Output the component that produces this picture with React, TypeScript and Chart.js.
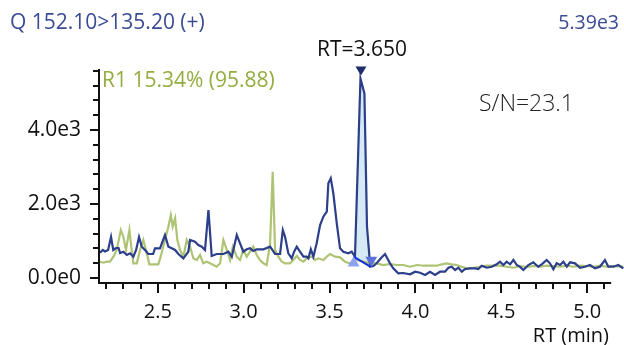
import { useEffect, useRef } from "react";
import { Chart, registerables } from "chart.js";

Chart.register(...registerables);

// ---- data (RT in minutes, intensity) ----
const blueTimes = [
  2.164, 2.18, 2.193, 2.211, 2.228, 2.241, 2.257, 2.272, 2.281, 2.3, 2.32, 2.339, 2.358, 2.374, 2.391, 2.407,
  2.426, 2.445, 2.473, 2.484, 2.513, 2.542, 2.562, 2.581, 2.601, 2.62, 2.649, 2.678, 2.688, 2.717, 2.736, 2.756,
  2.775, 2.795, 2.814, 2.843, 2.882, 2.911, 2.931, 2.96, 2.979, 2.998, 3.018, 3.037, 3.056, 3.076, 3.115, 3.154,
  3.183, 3.212, 3.228, 3.241, 3.26, 3.28, 3.293, 3.309, 3.328, 3.348, 3.367, 3.377, 3.391, 3.406, 3.425, 3.445,
  3.464, 3.484, 3.493, 3.507, 3.522, 3.542, 3.561, 3.58, 3.609, 3.629, 3.648, 3.68, 3.703, 3.718, 3.737, 3.755,
  3.774, 3.8, 3.823, 3.852, 3.871, 3.9, 3.928, 3.969, 3.998, 4.027, 4.056, 4.085, 4.114, 4.143, 4.172, 4.192,
  4.211, 4.231, 4.25, 4.27, 4.289, 4.318, 4.347, 4.366, 4.386, 4.415, 4.444, 4.473, 4.492, 4.512, 4.531, 4.551,
  4.57, 4.59, 4.609, 4.628, 4.657, 4.686, 4.715, 4.735, 4.764, 4.783, 4.803, 4.822, 4.842, 4.861, 4.881, 4.9,
  4.929, 4.958, 4.987, 5.016, 5.045, 5.074, 5.103, 5.123, 5.152, 5.181, 5.21,
];
const blueValues = [
  684, 757, 716, 757, 1108, 757, 811, 811, 676, 711, 622, 668, 576, 757, 1108, 846,
  757, 649, 649, 803, 803, 1162, 846, 803, 757, 649, 532, 711, 1027, 981, 892, 846,
  757, 1838, 595, 649, 649, 711, 576, 1162, 938, 711, 776, 803, 730, 776, 776, 846,
  649, 649, 1297, 1116, 668, 532, 703, 846, 711, 576, 576, 532, 776, 576, 938, 1433,
  1657, 1792, 2560, 2695, 2290, 1479, 803, 711, 668, 711, 576, 5390, 4990, 1390, 305, 324,
  397, 541, 649, 397, 262, 127, 135, 100, 170, 143, 81, 170, 81, 170, 170, 278,
  305, 216, 278, 170, 243, 262, 262, 243, 332, 278, 305, 370, 441, 351, 441, 370,
  487, 351, 300, 216, 351, 424, 305, 370, 487, 397, 235, 397, 351, 441, 305, 424,
  397, 278, 305, 351, 262, 305, 487, 305, 305, 351, 262,
];

const greenTimes = [
  2.164, 2.183, 2.203, 2.222, 2.242, 2.261, 2.285, 2.3, 2.315, 2.335, 2.348, 2.358, 2.378, 2.397, 2.416, 2.436,
  2.451, 2.474, 2.503, 2.517, 2.542, 2.562, 2.576, 2.587, 2.601, 2.614, 2.63, 2.649, 2.669, 2.688, 2.707, 2.727,
  2.746, 2.765, 2.785, 2.804, 2.824, 2.843, 2.863, 2.882, 2.902, 2.921, 2.937, 2.96, 2.979, 2.998, 3.018, 3.037,
  3.056, 3.076, 3.095, 3.115, 3.134, 3.154, 3.169, 3.183, 3.202, 3.222, 3.241, 3.27, 3.289, 3.309, 3.328, 3.348,
  3.367, 3.396, 3.416, 3.435, 3.464, 3.484, 3.503, 3.532, 3.561, 3.59, 3.619, 3.658, 3.697, 3.736, 3.774, 3.813,
  3.852, 3.891, 3.93, 3.969, 4.008, 4.046, 4.085, 4.124, 4.153, 4.182, 4.211, 4.24, 4.27, 4.299, 4.337, 4.376,
  4.415, 4.453, 4.492, 4.531, 4.57, 4.609, 4.648, 4.686, 4.725, 4.764, 4.803, 4.842, 4.881, 4.919, 4.958, 4.997,
  5.036, 5.074, 5.113, 5.152, 5.19, 5.21,
];
const greenValues = [
  441, 414, 441, 441, 576, 757, 1297, 1116, 757, 1297, 757, 397, 397, 757, 1027, 668,
  370, 370, 370, 576, 1027, 1387, 1703, 1387, 1614, 1027, 757, 576, 1027, 846, 532, 487,
  622, 397, 441, 397, 351, 305, 397, 1027, 757, 487, 846, 576, 487, 757, 576, 711,
  846, 622, 487, 397, 351, 938, 2873, 757, 576, 441, 397, 397, 487, 595, 487, 441,
  532, 576, 487, 532, 487, 576, 649, 576, 559, 441, 397, 487, 441, 397, 397, 351,
  378, 351, 351, 305, 351, 332, 332, 332, 370, 397, 370, 351, 305, 262, 278, 305,
  332, 332, 332, 305, 278, 324, 297, 324, 305, 332, 324, 305, 332, 305, 332, 324,
  305, 332, 305, 324, 305, 310,
];

// axis ticks
const xTickValues = Array.from({ length: 30 }, (_, i) => (22 + i) / 10); // 2.2 .. 5.1
const xMajorTicks = [2.5, 3.0, 3.5, 4.0, 4.5, 5.0];
const yTickValues = Array.from({ length: 15 }, (_, i) => i * 400); // 0 .. 5600
const yMajorTicks = [0, 2000, 4000];

const X_MIN = 2.158;
const X_MAX = 5.214;
const X_AXIS_END = 5.139;
const Y_MIN = -162;
const Y_MAX = 5649;

// peak integration
const peakStartTime = 3.64;
const peakStartValue = 580;
const peakEndTime = 3.737;
const peakEndValue = 305;
const apexTime = 3.68;
const apexValue = 5390;

// texts
const titleText = "Q 152.10>135.20 (+)";
const maxText = "5.39e3";
const rtText = "RT=3.650";
const snText = "S/N=23.1";
const refText = "R1 15.34% (95.88)";
const xTitle = "RT (min)";

const FONT = "'Open Sans', 'Noto Sans', sans-serif";
const BLUE = "#2b3f8a";
const GREEN = "rgba(160,186,92,0.85)";
const TITLE_BLUE = "#3b4c94";

function fmtY(v: number): string {
  if (v === 0) return "0.0e0";
  const e = Math.floor(Math.log10(Math.abs(v)));
  return (v / Math.pow(10, e)).toFixed(1) + "e" + e;
}

const decoPlugin = {
  id: "deco",
  beforeDatasetsDraw(chart: any) {
    const { ctx, scales } = chart;
    const x = scales.x;
    const y = scales.y;
    ctx.save();
    ctx.beginPath();
    ctx.moveTo(x.getPixelForValue(peakStartTime), y.getPixelForValue(peakStartValue));
    blueTimes.forEach((t, i) => {
      if (t > peakStartTime && t <= peakEndTime) {
        ctx.lineTo(x.getPixelForValue(t), y.getPixelForValue(blueValues[i]));
      }
    });
    ctx.lineTo(x.getPixelForValue(peakEndTime), y.getPixelForValue(peakEndValue));
    ctx.closePath();
    ctx.fillStyle = "#d5eaf4";
    ctx.fill();
    ctx.restore();
  },
  afterDatasetsDraw(chart: any) {
    const { ctx, scales } = chart;
    const x = scales.x;
    const y = scales.y;
    const sx = x.getPixelForValue(peakStartTime);
    const sy = y.getPixelForValue(peakStartValue);
    const ex = x.getPixelForValue(peakEndTime);
    const ey = y.getPixelForValue(peakEndValue);
    ctx.save();
    // baseline
    ctx.strokeStyle = "#1430e0";
    ctx.lineWidth = 2;
    ctx.beginPath();
    ctx.moveTo(sx, sy);
    ctx.lineTo(ex, ey);
    ctx.stroke();
    // start triangle (up)
    ctx.fillStyle = "#8ea2f3";
    ctx.beginPath();
    ctx.moveTo(sx, sy);
    ctx.lineTo(sx + 6, sy + 10);
    ctx.lineTo(sx - 6, sy + 10);
    ctx.closePath();
    ctx.fill();
    // end triangle (down)
    ctx.fillStyle = "#5f72dc";
    ctx.beginPath();
    ctx.moveTo(ex + 1, ey);
    ctx.lineTo(ex + 7, ey - 10);
    ctx.lineTo(ex - 5, ey - 10);
    ctx.closePath();
    ctx.fill();
    // apex triangle
    const ax = x.getPixelForValue(apexTime);
    const ay = y.getPixelForValue(apexValue) - 3;
    ctx.fillStyle = "#1f2d6c";
    ctx.beginPath();
    ctx.moveTo(ax + 0.5, ay);
    ctx.lineTo(ax + 6, ay - 9);
    ctx.lineTo(ax - 5, ay - 9);
    ctx.closePath();
    ctx.fill();
    ctx.restore();
  },
  afterDraw(chart: any) {
    const { ctx, chartArea, scales } = chart;
    const x = scales.x;
    const y = scales.y;
    ctx.save();
    ctx.strokeStyle = "#111";
    ctx.lineWidth = 2;
    const ax = chartArea.left;
    const by = chartArea.bottom - 1;
    ctx.beginPath();
    ctx.moveTo(ax, chartArea.top);
    ctx.lineTo(ax, by + 1);
    yTickValues.forEach((v) => {
      const py = Math.round(y.getPixelForValue(v));
      const len = yMajorTicks.includes(v) ? 9 : 6;
      ctx.moveTo(ax - len, py);
      ctx.lineTo(ax, py);
    });
    ctx.moveTo(ax - 1, by);
    ctx.lineTo(x.getPixelForValue(X_AXIS_END), by);
    xTickValues.forEach((v) => {
      const px = Math.round(x.getPixelForValue(v));
      const len = xMajorTicks.some((m) => Math.abs(m - v) < 1e-6) ? 10 : 6;
      ctx.moveTo(px, by);
      ctx.lineTo(px, by + len);
    });
    ctx.stroke();

    // texts
    ctx.textBaseline = "alphabetic";
    ctx.font = `21px ${FONT}`;
    ctx.fillStyle = TITLE_BLUE;
    ctx.textAlign = "left";
    ctx.fillText(titleText, 10, 28.5);
    ctx.font = `19.5px ${FONT}`;
    ctx.textAlign = "right";
    ctx.fillText(maxText, 619, 28.5);
    ctx.font = `21px ${FONT}`;
    ctx.fillStyle = "#111";
    ctx.textAlign = "center";
    ctx.fillText(rtText, x.getPixelForValue(apexTime) + 1.5, 56);
    ctx.font = `300 23px ${FONT}`;
    ctx.fillStyle = "#222";
    ctx.textAlign = "left";
    ctx.fillText(snText, 479, 110.5);
    ctx.font = `21px ${FONT}`;
    ctx.fillStyle = "#93ad40";
    ctx.fillText(refText, 102, 87);
    ctx.font = `20px ${FONT}`;
    ctx.fillStyle = "#111";
    ctx.textAlign = "right";
    ctx.fillText(xTitle, 609, 341.5);
    ctx.restore();
  },
};

export default function App() {
  const ref = useRef<HTMLCanvasElement>(null);
  useEffect(() => {
    const canvas = ref.current;
    if (!canvas) return;
    const chart = new Chart(canvas, {
      type: "line",
      data: {
        datasets: [
          {
            data: blueTimes.map((t, i) => ({ x: t, y: blueValues[i] })),
            borderColor: BLUE,
            borderWidth: 2.2,
            pointRadius: 0,
            tension: 0,
            fill: false,
          },
          {
            data: greenTimes.map((t, i) => ({ x: t, y: greenValues[i] })),
            borderColor: GREEN,
            borderWidth: 2.2,
            pointRadius: 0,
            tension: 0,
            fill: false,
          },
        ],
      },
      options: {
        animation: false,
        responsive: false,
        maintainAspectRatio: false,
        events: [],
        layout: { padding: { top: 69, right: 0, left: 0, bottom: 0 } },
        plugins: { legend: { display: false }, tooltip: { enabled: false }, title: { display: false } },
        scales: {
          x: {
            type: "linear",
            min: X_MIN,
            max: X_MAX,
            afterBuildTicks: (s: any) => {
              s.ticks = xTickValues.map((v) => ({ value: v }));
            },
            afterFit: (s: any) => {
              s.height = 61;
            },
            grid: { display: false, drawTicks: false },
            border: { display: false },
            ticks: {
              autoSkip: false,
              maxRotation: 0,
              minRotation: 0,
              padding: 16,
              color: "#111",
              font: { family: FONT, size: 20 },
              callback: (v: any) => (xMajorTicks.some((m) => Math.abs(m - v) < 1e-6) ? Number(v).toFixed(1) : ""),
            },
          },
          y: {
            type: "linear",
            min: Y_MIN,
            max: Y_MAX,
            afterBuildTicks: (s: any) => {
              s.ticks = yTickValues.map((v) => ({ value: v }));
            },
            afterFit: (s: any) => {
              s.width = 99;
            },
            grid: { display: false, drawTicks: false },
            border: { display: false },
            ticks: {
              autoSkip: false,
              padding: 18,
              color: "#111",
              font: { family: FONT, size: 21 },
              callback: (v: any) => (yMajorTicks.includes(Number(v)) ? fmtY(Number(v)) : ""),
            },
          },
        },
      },
      plugins: [decoPlugin],
    });
    return () => chart.destroy();
  }, []);
  return (
    <div style={{ position: "fixed", left: 0, top: 0, width: 624, height: 345, background: "#fff" }}>
      <canvas ref={ref} width={624} height={345} style={{ width: 624, height: 345, display: "block" }} />
    </div>
  );
}
